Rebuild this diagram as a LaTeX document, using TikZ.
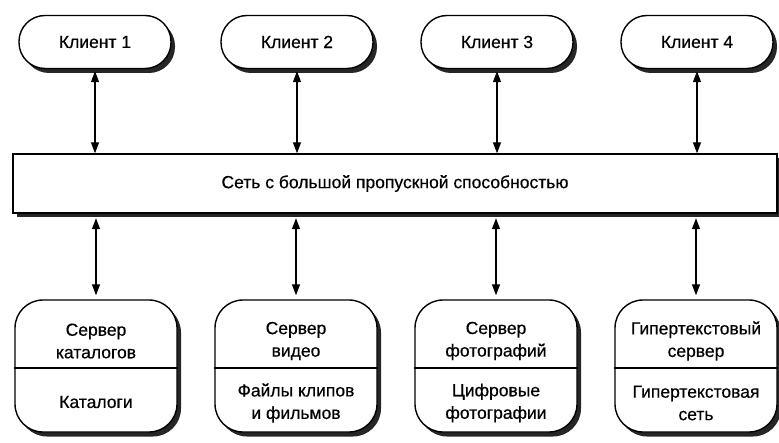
\documentclass[tikz,border=0pt]{standalone}
\usepackage{fontspec}
\setmainfont[FakeBold=0.5]{Liberation Sans}
\usetikzlibrary{shadows,arrows.meta}
\begin{document}
\begin{tikzpicture}[x=1pt,y=-1pt,
  font=\fontsize{17.5}{21}\selectfont,
  shade/.style={drop shadow={shadow xshift=4pt,shadow yshift=-4.5pt,fill=black!85,opacity=1}},
  client/.style={draw,line width=1.4pt,fill=white,shade,rounded corners=26pt,
    minimum width=152pt,minimum height=53pt,inner sep=0pt},
  server/.style={draw,line width=1.4pt,fill=white,shade,rounded corners=28pt,
    minimum width=162pt,minimum height=132pt,inner sep=0pt},
  netbox/.style={draw,line width=1.4pt,fill=white,shade,
    minimum width=764pt,minimum height=59pt,inner sep=0pt},
  txt/.style={align=center,inner sep=0pt,font=\fontsize{17.5}{22.5}\selectfont},
  link/.style={line width=1.3pt,{Triangle[length=11pt,width=8pt]}-{Triangle[length=11pt,width=8pt]}}
]
\useasboundingbox (0,0) rectangle (779,443);

% network
\node[netbox] (net) at (395,183.5) {Сеть с большой пропускной способностью};

% clients
\foreach \i/\x in {1/95,2/297,3/497,4/697}{
  \node[client] (c\i) at (\x,42) {Клиент \i};
}

% servers with a divider between server name and content
\node[server] (s1) at (96,366) {};
\node[server] (s2) at (296,366) {};
\node[server] (s3) at (496,366) {};
\node[server] (s4) at (696,366) {};
\foreach \i in {1,...,4}{
  \draw[line width=1.4pt] ([yshift=-2pt]s\i.west) -- ([yshift=-2pt]s\i.east);
}

\node[txt] (s1a) at ([yshift=25pt]s1.center) {Сервер\\каталогов};
\node[txt] (s1b) at ([yshift=-36pt]s1.center) {Каталоги};
\node[txt] (s2a) at ([yshift=25pt]s2.center) {Сервер\\видео};
\node[txt] (s2b) at ([yshift=-37pt]s2.center) {Файлы клипов\\и фильмов};
\node[txt] (s3a) at ([yshift=25pt]s3.center) {Сервер\\фотографий};
\node[txt] (s3b) at ([yshift=-37pt]s3.center) {Цифровые\\фотографии};
\node[txt] (s4a) at ([yshift=25pt]s4.center) {Гипертекстовый\\сервер};
\node[txt] (s4b) at ([yshift=-37pt]s4.center) {Гипертекстовая\\сеть};

% links
\foreach \i in {1,...,4}{
  \draw[link] ([yshift=-2pt]c\i.south) -- (c\i.south |- net.north);
  \draw[link] ([yshift=-4.5pt]net.south -| s\i.north) -- ([yshift=4pt]s\i.north);
}
\end{tikzpicture}
\end{document}
